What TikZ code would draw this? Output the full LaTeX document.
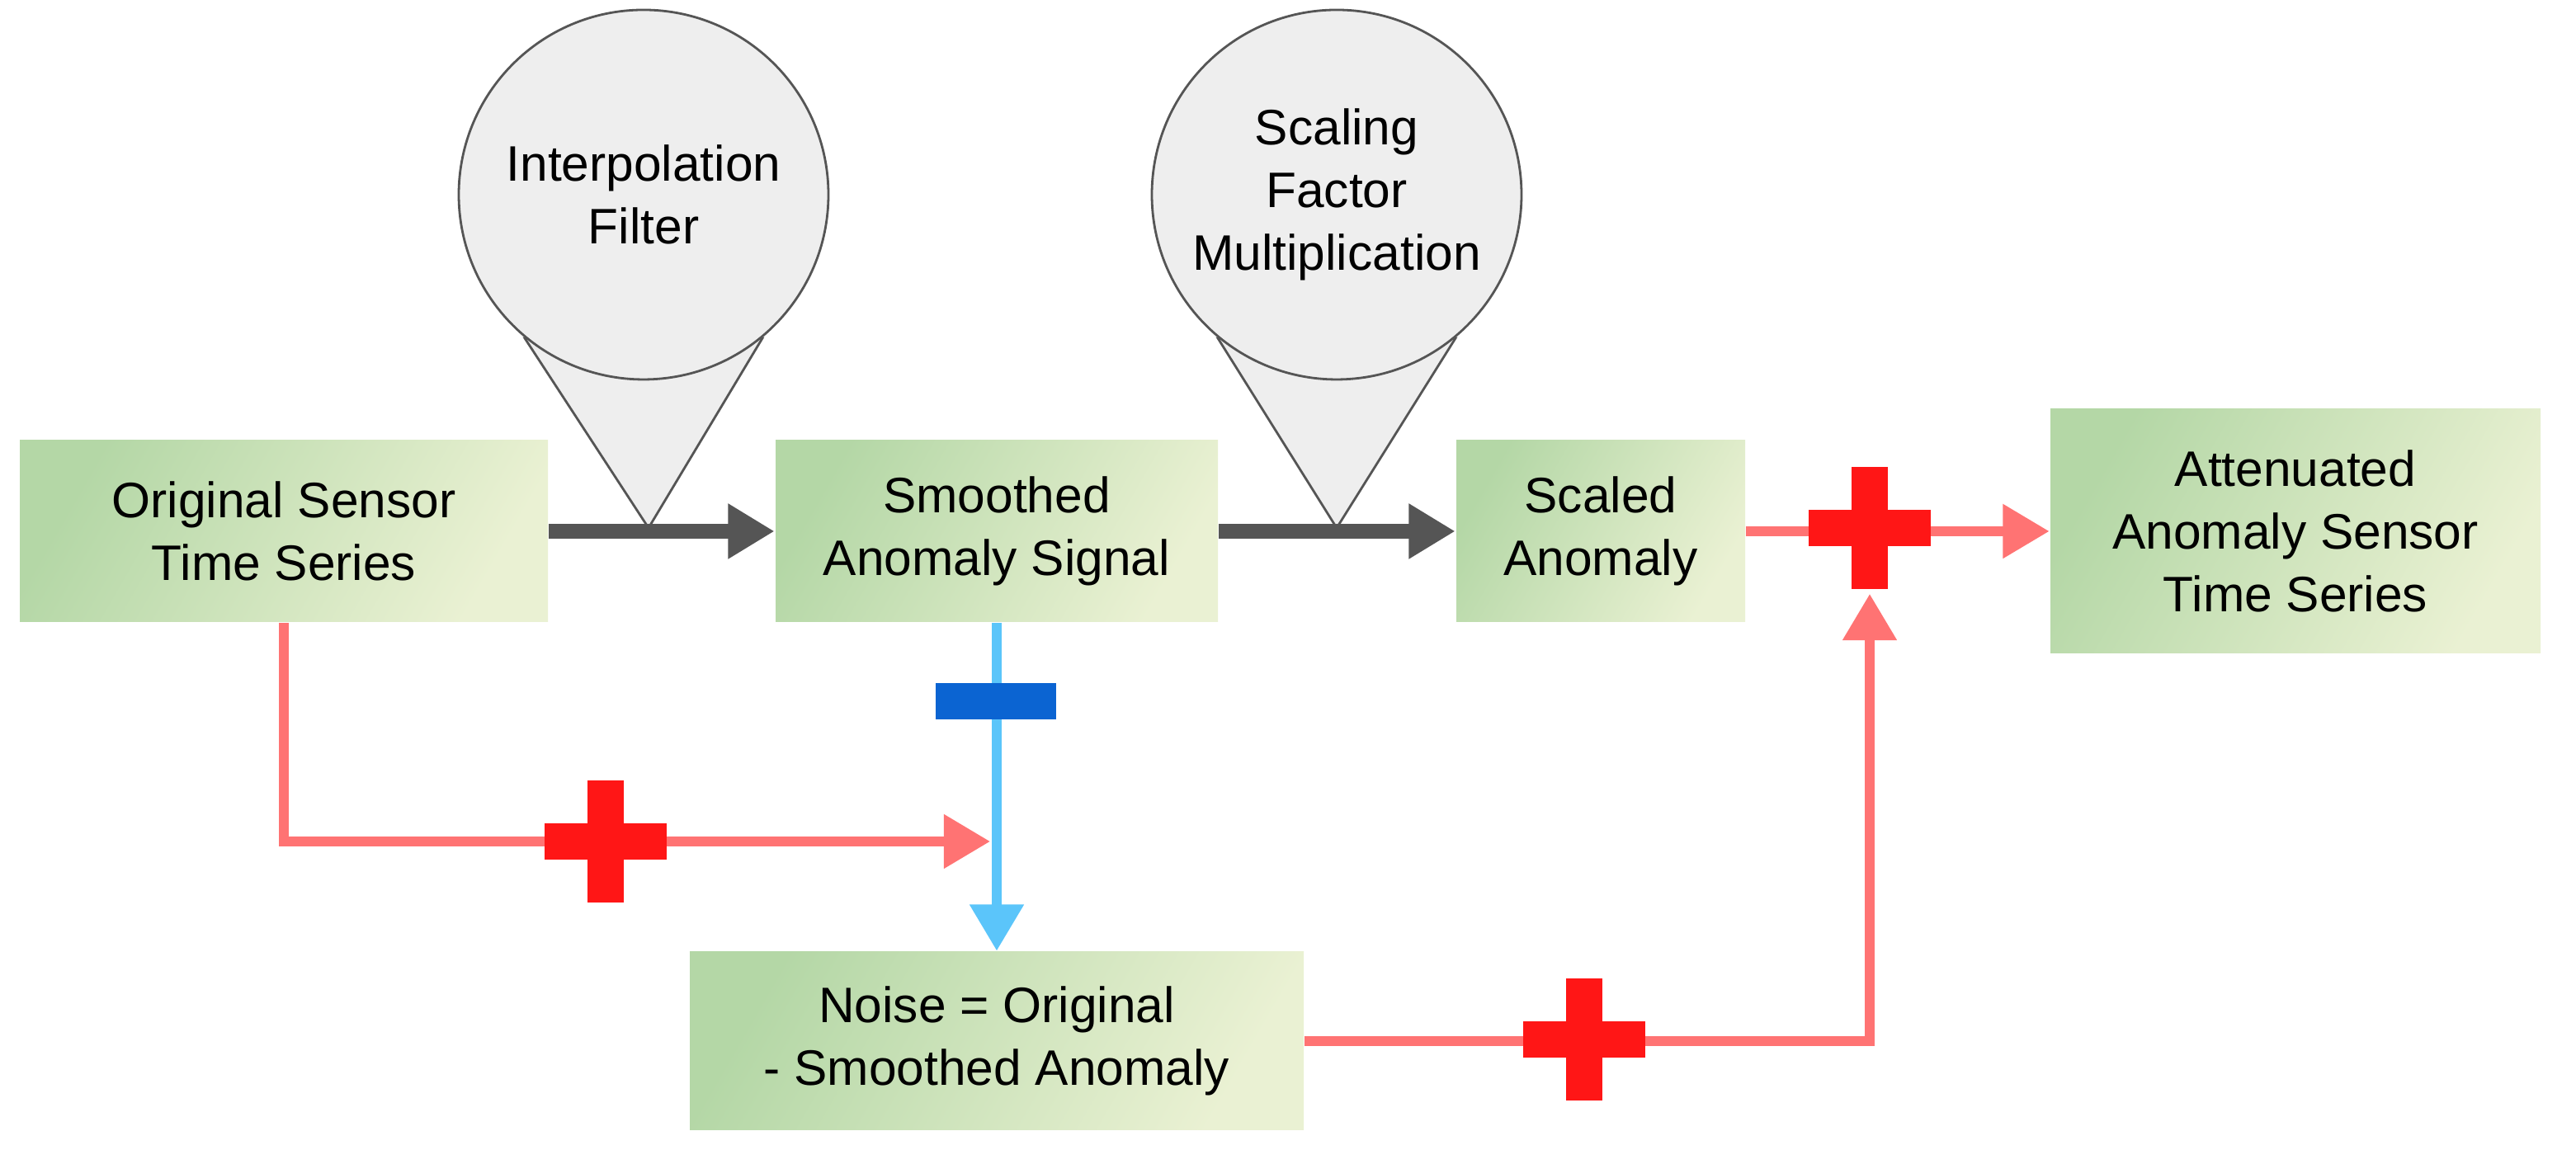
\documentclass[tikz,border=0pt]{standalone}
\usepackage{fontspec}
\setmainfont{Liberation Sans}
\usetikzlibrary{arrows.meta,calc}
\definecolor{box left}{HTML}{B4D7A6}
\definecolor{box right}{HTML}{EAF1D3}
\definecolor{flow gray}{HTML}{555555}
\definecolor{flow red}{HTML}{FF7373}
\definecolor{flow blue}{HTML}{5BC5FA}
\definecolor{mark red}{HTML}{FF1616}
\definecolor{mark blue}{HTML}{0B64D2}
\definecolor{pin gray}{HTML}{EEEEEE}

\tikzset{
    step box/.style={shading=axis, left color=box left, right color=box right, shading angle=60,
        align=center, font=\fontsize{8.6}{10.8}\selectfont, inner sep=0pt},
    gray flow/.style={line width=2.6pt, flow gray, -{Triangle[length=8pt,width=9pt]}},
    red flow/.style={line width=1.6pt, flow red, -{Triangle[length=8pt,width=9pt]}},
    blue flow/.style={line width=1.6pt, flow blue, -{Triangle[length=8pt,width=9pt]}},
    pin/.style={circle, draw=flow gray, fill=pin gray, minimum size=2.24cm, align=center,
        font=\fontsize{8.6}{10.8}\selectfont, inner sep=0pt}
}
\newcommand\plusmark[1]{%
    \fill [mark red] ($(#1)+(-0.37,-0.11)$) rectangle ($(#1)+(0.37,0.11)$);
    \fill [mark red] ($(#1)+(-0.11,-0.37)$) rectangle ($(#1)+(0.11,0.37)$);
}

\begin{document}
\begin{tikzpicture}
    \useasboundingbox (0, 0) rectangle (15.61, -6.97);

    % pins
    \fill [pin gray, draw=flow gray, thin] (3.18, -2.05) -- (3.93, -3.2) -- (4.62, -2.05) -- cycle;
    \node [pin] (interp) at (3.9, -1.18) {Interpolation\\Filter};
    \fill [pin gray, draw=flow gray, thin] (7.38, -2.05) -- (8.1, -3.2) -- (8.82, -2.05) -- cycle;
    \node [pin] (scaling) at (8.1, -1.18) {Scaling\\Factor\\Multiplication};

    % steps
    \node [step box, minimum width=3.2cm, minimum height=1.1cm] (orig) at (1.72, -3.22) {Original Sensor\\Time Series};
    \node [step box, minimum width=2.68cm, minimum height=1.1cm] (smooth) at (6.04, -3.22) {Smoothed\\Anomaly Signal};
    \node [step box, minimum width=1.75cm, minimum height=1.1cm] (scaled) at (9.7, -3.22) {Scaled\\Anomaly};
    \node [step box, minimum width=2.97cm, minimum height=1.48cm] (atten) at (13.91, -3.22) {Attenuated\\Anomaly Sensor\\Time Series};
    \node [step box, minimum width=3.72cm, minimum height=1.08cm] (noise) at (6.04, -6.31) {Noise = Original\\- Smoothed Anomaly};

    \coordinate (join) at (6.0, -5.1);
    \coordinate (sum) at (11.33, -3.6);

    % flows
    \draw [gray flow] (orig.east) -- (smooth.west);
    \draw [gray flow] (smooth.east) -- (scaled.west);
    \draw [red flow] (scaled.east) -- (atten.west);
    \draw [red flow] (orig.south) |- (join);
    \draw [blue flow] (smooth.south) -- (noise.north);
    \draw [red flow] (noise.east) -| (sum);

    % marks
    \plusmark{3.67, -5.1}
    \plusmark{9.6, -6.3}
    \plusmark{11.33, -3.2}
    \fill [mark blue] (5.67, -4.14) rectangle (6.4, -4.36);
\end{tikzpicture}
\end{document}
